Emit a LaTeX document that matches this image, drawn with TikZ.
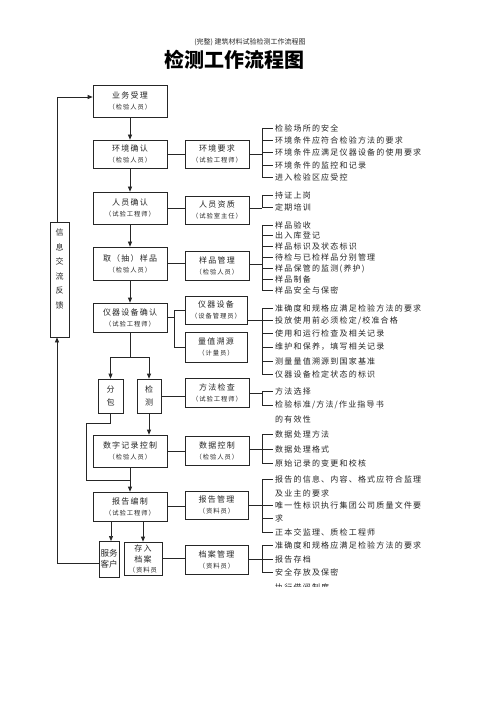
\documentclass[tikz,border=0pt]{standalone}
\usepackage{fontspec}
\setmainfont{Noto Sans CJK SC}
\newfontfamily\spfam{Noto Sans CJK SC}[LetterSpace=15]
\newcommand\bxfont{\spfam\fontsize{8}{11}\selectfont}
\newcommand\subfnt{\spfam\fontsize{6.3}{8}\selectfont}
\newcommand\itfnt{\spfam\fontsize{8}{10}\selectfont}
\usetikzlibrary{arrows.meta}
\begin{document}
\begin{tikzpicture}[x=1pt,y=-1pt,
  ln/.style={draw=black!85,line width=0.7pt},
  arr/.style={ln,-{Triangle[length=5pt,width=4pt]}},
  box/.style={ln,rectangle,inner sep=0pt,align=center,font=\bxfont,text=black!85},
  mbox/.style={box,minimum width=74},
  rbox/.style={box,minimum width=64},
  item/.style={anchor=west,inner sep=0pt,font=\itfnt,text=black!85},
]
\useasboundingbox (0,0) rectangle (500,708);
\fill[white] (0,0) rectangle (500,708);

% titles
\node[font=\fontsize{7}{8}\selectfont,text=black!85] (st) at (250,42) {(完整) 建筑材料试验检测工作流程图};
\node[font=\bfseries\fontsize{20}{22}\selectfont] (tt) at (234,60) {检测工作流程图};

% main column
\node[mbox,minimum height=32] (ywsl) at (130,101) {业务受理\\{\subfnt（检验人员）}};
\node[mbox,minimum height=28] (hjqr) at (130,154) {环境确认\\{\subfnt（检验人员）}};
\node[mbox,minimum height=32] (ryqr) at (130,208) {人员确认\\{\subfnt（试验工程师）}};
\node[mbox,minimum height=33] (qyp)  at (130,263.5) {取（抽）样品\\{\subfnt（检验人员）}};
\node[mbox,minimum height=29] (yqqr) at (130,317.5) {仪器设备确认\\{\subfnt（试验工程师）}};
\node[mbox,minimum height=32] (szjl) at (130,451) {数字记录控制\\{\subfnt（检验人员）}};
\node[mbox,minimum height=29] (bgbz) at (130,506.5) {报告编制\\{\subfnt（试验工程师）}};

% second column
\node[rbox,minimum height=28] (hjyq) at (217,154) {环境要求\\{\subfnt（试验工程师）}};
\node[rbox,minimum height=28] (ryzz) at (217,210) {人员资质\\{\subfnt（试验室主任）}};
\node[rbox,minimum height=29] (ypgl) at (217,265.5) {样品管理\\{\subfnt（检验人员）}};
\node[box,minimum width=62,minimum height=28] (yqsb) at (216,310) {仪器设备\\{\subfnt（设备管理员）}};
\node[box,minimum width=62,minimum height=30] (lzsy) at (216,347) {量值溯源\\{\subfnt（计量员）}};
\node[rbox,minimum height=29] (ffjc) at (217,392.5) {方法检查\\{\subfnt（试验工程师）}};
\node[rbox,minimum height=29] (sjkz) at (217,450.5) {数据控制\\{\subfnt（检验人员）}};
\node[box,minimum width=63,minimum height=28] (bggl) at (216.5,505) {报告管理\\{\subfnt（资料员）}};
\node[box,minimum width=63,minimum height=29] (dagl) at (216.5,559.5) {档案管理\\{\subfnt（资料员）}};

% small boxes
\node[box,minimum width=25,minimum height=34,font=\spfam\fontsize{8}{13}\selectfont] (fb) at (110.5,396) {分\\包};
\node[box,minimum width=24,minimum height=34,font=\spfam\fontsize{8}{13}\selectfont] (jc) at (149,396) {检\\测};
\node[box,minimum width=20,minimum height=36,font=\fontsize{8.5}{11}\selectfont] (fwkh) at (109,559) {服务\\客户};
\node[box,minimum width=38,minimum height=33,font=\spfam\fontsize{8}{11}\selectfont] (crda) at (143,558.5) {存入\\档案\\[-1pt]{\subfnt（资料员}};
\node[box,minimum width=19,minimum height=115] (info) at (59.5,279.5) {};
\node[align=center,inner sep=0pt,font=\spfam\fontsize{8}{14.5}\selectfont,text=black!85] (infot) at (59.5,269) {信\\息\\交\\流\\反\\馈};

% vertical flow
\draw[arr] (ywsl) -- (hjqr);
\draw[arr] (hjqr) -- (ryqr);
\draw[arr] (ryqr) -- (qyp);
\draw[arr] (qyp) -- (yqqr);
\coordinate (sp) at (130,357);
\draw[ln] (yqqr.south) -- (sp);
\draw[ln] (fb.north |- sp) -- (jc.north |- sp);
\draw[arr] (fb.north |- sp) -- (fb.north);
\draw[arr] (jc.north |- sp) -- (jc.north);
\draw[arr] (jc.south) -- (jc.south |- szjl.north);
\coordinate (j1) at (86,423);
\coordinate (j2) at (130,480);
\draw[ln] (fb.south) |- (j1) |- (j2);
\draw[arr] (szjl.south) -- (bgbz.north);
\draw[arr] (111,521) -- (111,541);
\draw[arr] (crda.north |- bgbz.south) -- (crda.north);

% feedback loop
\coordinate (lb) at (57,563);
\draw[ln] (fwkh.west |- lb) -- (lb);
\draw[arr] (lb) -- (lb |- info.south);
\coordinate (lt) at (57,97);
\draw[ln] (lt |- info.north) -- (lt);
\draw[arr] (lt) -- (lt -| ywsl.west);

% horizontal links
\draw[ln] (hjqr.east) -- (hjyq.west);
\draw[ln] (ryqr.east) -- (ryqr.east -| ryzz.west);
\draw[ln] (qyp.east) -- (qyp.east -| ypgl.west);
\coordinate (yb) at (174,317.5);
\draw[ln] (yqqr.east) -- (yb);
\draw[ln] (yb |- yqsb.west) -- (yb |- lzsy.west);
\draw[ln] (yb |- yqsb.west) -- (yqsb.west);
\draw[ln] (yb |- lzsy.west) -- (lzsy.west);
\draw[ln] (jc.east) -- (jc.east -| ffjc.west);
\draw[ln] (szjl.east) -- (szjl.east -| sjkz.west);
\draw[ln] (bgbz.east) -- (bgbz.east -| bggl.west);
\draw[ln] (crda.east) -- (crda.east -| dagl.west);

% lists
\foreach \y/\t [count=\i] in {128/检验场所的安全,140/环境条件应符合检验方法的要求,152/环境条件应满足仪器设备的使用要求,165/环境条件的监控和记录,177/进入检验区应受控}{
  \node[item] (a\i) at (275,\y) {\t};
  \draw[ln,shorten >=2pt] (262,\y) -- (a\i.west);
}
\draw[ln] (262,128) -- (262,177);
\draw[ln] (hjyq.east) -- (262,154);

\foreach \y/\t [count=\i] in {195/持证上岗,207/定期培训}{
  \node[item] (b\i) at (275,\y) {\t};
  \draw[ln,shorten >=2pt] (262,\y) -- (b\i.west);
}
\draw[ln] (262,195) -- (262,208);
\draw[ln] (ryzz.east |- 0,208) -- (262,208);

\foreach \y/\t [count=\i] in {225/样品验收,235.5/出入库登记,246.5/样品标识及状态标识,257.5/待检与已检样品分别管理,268.5/样品保管的监测(养护),279.5/样品制备,290.5/样品安全与保密}{
  \node[item] (c\i) at (275,\y) {\t};
  \draw[ln,shorten >=2pt] (262,\y) -- (c\i.west);
}
\draw[ln] (262,225) -- (262,290.5);
\draw[ln] (ypgl.east |- 0,264) -- (262,264);

\foreach \y/\t [count=\i] in {308/准确度和规格应满足检验方法的要求,320.5/{投放使用前必须检定/校准合格},333.5/使用和运行检查及相关记录,347/维护和保养，填写相关记录,361/测量量值溯源到国家基准,374/仪器设备检定状态的标识}{
  \node[item] (d\i) at (275,\y) {\t};
  \draw[ln,shorten >=2pt] (262,\y) -- (d\i.west);
}
\draw[ln] (262,308) -- (262,374);
\draw[ln] (yqsb.east |- 0,320) -- (262,320);

\foreach \y/\t [count=\i] in {391/方法选择,405/{检验标准/方法/作业指导书}}{
  \node[item] (e\i) at (275,\y) {\t};
  \draw[ln,shorten >=2pt] (262,\y) -- (e\i.west);
}
\node[item] (e3) at (275,419) {的有效性};
\draw[ln] (262,391) -- (262,405);
\draw[ln] (ffjc.east |- 0,393) -- (262,393);

\foreach \y/\t [count=\i] in {434/数据处理方法,449/数据处理格式,463/原始记录的变更和校核}{
  \node[item] (f\i) at (275,\y) {\t};
  \draw[ln,shorten >=2pt] (262,\y) -- (f\i.west);
}
\draw[ln] (262,434) -- (262,463);
\draw[ln] (sjkz.east |- 0,449) -- (262,449);

\foreach \y/\t [count=\i] in {479/报告的信息、内容、格式应符合监理,505/唯一性标识执行集团公司质量文件要,518/求,532/正本交监理、质检工程师}{
  \node[item] (g\i) at (275,\y) {\t};
  \draw[ln,shorten >=2pt] (262,\y) -- (g\i.west);
}
\node[item] (g5) at (275,493) {及业主的要求};
\draw[ln] (262,479) -- (262,532);
\draw[ln] (bggl.east |- 0,505) -- (262,505);

\foreach \y/\t [count=\i] in {545/准确度和规格应满足检验方法的要求,559/报告存档,572/安全存放及保密}{
  \node[item] (h\i) at (275,\y) {\t};
  \draw[ln,shorten >=2pt] (262,\y) -- (h\i.west);
}
\draw[ln] (262,545) -- (262,572);
\draw[ln] (dagl.east |- 0,559) -- (262,559);
\begin{scope}
  \clip (270,578) rectangle (440,586);
  \node[item] (h4) at (275,587) {执行借阅制度};
\end{scope}
\end{tikzpicture}
\end{document}
